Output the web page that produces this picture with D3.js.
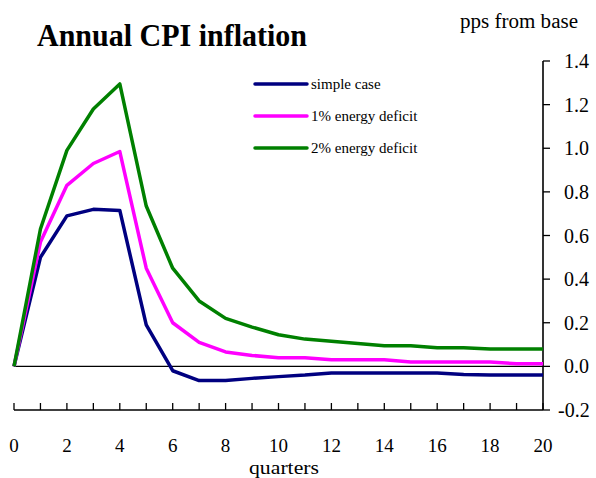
<!DOCTYPE html>
<html><head><meta charset="utf-8">
<script src="https://cdn.jsdelivr.net/npm/d3@7"></script>
<style>body{margin:0;background:#fff}svg{display:block}text{font-family:"Liberation Serif","Times New Roman",serif}</style>
</head><body><svg id="c" width="596" height="478"></svg>
<script>
const quarters = d3.range(0, 21);
const simpleCase = [0, 0.50, 0.69, 0.72, 0.715, 0.19, -0.02, -0.065, -0.065, -0.055, -0.047, -0.04, -0.03, -0.03, -0.03, -0.03, -0.03, -0.037, -0.04, -0.04, -0.04];
const deficit1 = [0, 0.57, 0.83, 0.93, 0.985, 0.45, 0.20, 0.11, 0.066, 0.05, 0.04, 0.04, 0.03, 0.03, 0.03, 0.02, 0.02, 0.02, 0.02, 0.012, 0.012];
const deficit2 = [0, 0.63, 0.99, 1.18, 1.295, 0.735, 0.45, 0.30, 0.22, 0.18, 0.145, 0.125, 0.115, 0.105, 0.095, 0.095, 0.085, 0.085, 0.08, 0.08, 0.08];
const seriesNames = ["simple case", "1% energy deficit", "2% energy deficit"];
const seriesColors = ["#000080", "#ff00ff", "#008000"];
const yTicks = [-0.2, 0, 0.2, 0.4, 0.6, 0.8, 1.0, 1.2, 1.4];
const xTickLabels = [0, 2, 4, 6, 8, 10, 12, 14, 16, 18, 20];

const svg = d3.select("#c");
const x = d3.scaleLinear().domain([0, 20]).range([14, 543]);
const y = d3.scaleLinear().domain([-0.2, 1.4]).range([410, 61]);

// zero line
svg.append("line").attr("x1", x(0)).attr("x2", x(20)).attr("y1", y(0)).attr("y2", y(0))
  .attr("stroke", "#000").attr("stroke-width", 1.3);

// x axis at bottom
const gx = svg.append("g").attr("transform", `translate(0,${y(-0.2)})`);
gx.append("line").attr("x1", x(0)).attr("x2", x(20)).attr("stroke", "#000").attr("stroke-width", 1.6);
gx.selectAll("line.t").data(quarters).join("line").attr("class", "t")
  .attr("x1", d => x(d)).attr("x2", d => x(d)).attr("y1", 0).attr("y2", -7)
  .attr("stroke", "#000").attr("stroke-width", 1.3);
gx.selectAll("text").data(xTickLabels).join("text")
  .attr("x", d => x(d)).attr("y", 42).attr("text-anchor", "middle")
  .attr("font-size", 19).text(d => d);
svg.append("text").attr("x", 249).attr("y", 474)
  .attr("font-size", 19).attr("textLength", 70).attr("lengthAdjust", "spacingAndGlyphs").text("quarters");

// right y axis
const gy = svg.append("g").attr("transform", `translate(${x(20)},0)`);
gy.append("line").attr("y1", y(-0.2)).attr("y2", y(1.4)).attr("stroke", "#000").attr("stroke-width", 1.6);
gy.selectAll("line.t").data(yTicks).join("line").attr("class", "t")
  .attr("y1", d => y(d)).attr("y2", d => y(d)).attr("x1", 0).attr("x2", 7)
  .attr("stroke", "#000").attr("stroke-width", 1.3);
gy.selectAll("text").data(yTicks).join("text")
  .attr("x", d => d < 0 ? 15 : 21).attr("y", d => y(d) + 7).attr("font-size", 20)
  .text(d => d3.format(".1f")(d).replace("\u2212", "-"));

// lines
const line = d3.line().x((d, i) => x(quarters[i])).y(d => y(d));
[simpleCase, deficit1, deficit2].forEach((s, i) => {
  svg.append("path").datum(s).attr("d", line).attr("fill", "none")
    .attr("stroke", seriesColors[i]).attr("stroke-width", 3.5).attr("stroke-linejoin", "round");
});

// legend
const lg = svg.append("g");
seriesNames.forEach((n, i) => {
  const yy = 84 + i * 32;
  lg.append("line").attr("x1", 255).attr("x2", 307).attr("y1", yy).attr("y2", yy)
    .attr("stroke", seriesColors[i]).attr("stroke-width", 3.5).attr("stroke-linecap", "round");
  lg.append("text").attr("x", 311).attr("y", yy + 5).attr("font-size", 15).text(n);
});

// titles
svg.append("text").attr("x", 37).attr("y", 46).attr("font-size", 31).attr("font-weight", "bold")
  .attr("textLength", 270).attr("lengthAdjust", "spacingAndGlyphs").text("Annual CPI inflation");
svg.append("text").attr("x", 460).attr("y", 28).attr("font-size", 20)
  .attr("textLength", 118).attr("lengthAdjust", "spacingAndGlyphs").text("pps from base");
</script></body></html>
